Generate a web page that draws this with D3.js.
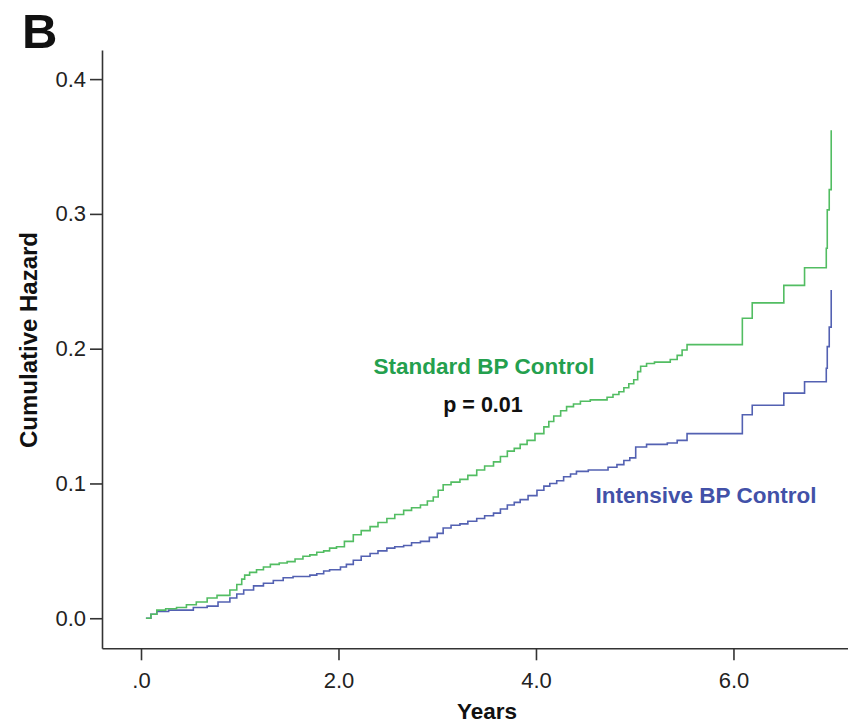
<!DOCTYPE html>
<html>
<head>
<meta charset="utf-8">
<script src="https://cdn.jsdelivr.net/npm/d3@7"></script>
<style>
  body { margin: 0; background: #fff; }
  text { font-family: "Liberation Sans", Arial, sans-serif; }
</style>
</head>
<body>
<script>
// cumulative hazard, [years, hazard]
var standardBP = [
  [0.05,0],[0.10,0.003],[0.16,0.006],[0.25,0.007],[0.36,0.008],[0.46,0.010],[0.56,0.012],
  [0.67,0.015],[0.77,0.017],[0.90,0.021],[0.97,0.025],[1.02,0.029],[1.05,0.032],[1.10,0.034],
  [1.17,0.036],[1.24,0.038],[1.31,0.040],[1.40,0.041],[1.48,0.042],[1.56,0.044],[1.64,0.046],
  [1.71,0.047],[1.78,0.049],[1.85,0.050],[1.91,0.052],[1.98,0.053],[2.06,0.057],[2.15,0.062],
  [2.23,0.065],[2.32,0.068],[2.40,0.071],[2.49,0.074],[2.57,0.077],[2.66,0.080],[2.74,0.082],
  [2.83,0.084],[2.90,0.087],[2.96,0.090],[3.01,0.095],[3.06,0.099],[3.14,0.101],[3.23,0.103],
  [3.31,0.106],[3.40,0.110],[3.48,0.113],[3.57,0.116],[3.64,0.120],[3.71,0.124],[3.78,0.126],
  [3.84,0.129],[3.91,0.132],[3.99,0.137],[4.08,0.142],[4.13,0.146],[4.18,0.150],[4.25,0.154],
  [4.31,0.157],[4.38,0.159],[4.45,0.161],[4.55,0.162],[4.72,0.164],[4.78,0.166],[4.84,0.168],
  [4.89,0.171],[4.94,0.174],[4.99,0.177],[5.03,0.183],[5.06,0.187],[5.12,0.189],[5.20,0.190],
  [5.36,0.192],[5.43,0.195],[5.48,0.199],[5.53,0.203],[6.09,0.2226],[6.19,0.234],[6.51,0.247],
  [6.72,0.260],[6.94,0.2745],[6.95,0.303],[6.97,0.318],[6.99,0.362]
];
var intensiveBP = [
  [0.05,0],[0.10,0.003],[0.16,0.005],[0.28,0.006],[0.53,0.008],[0.67,0.009],[0.78,0.012],
  [0.90,0.015],[0.97,0.018],[1.04,0.021],[1.14,0.024],[1.24,0.026],[1.34,0.028],[1.44,0.030],
  [1.54,0.031],[1.71,0.032],[1.78,0.033],[1.85,0.035],[1.91,0.036],[2.02,0.038],[2.08,0.040],
  [2.15,0.043],[2.23,0.046],[2.32,0.048],[2.40,0.050],[2.49,0.052],[2.57,0.053],[2.66,0.054],
  [2.74,0.056],[2.83,0.057],[2.92,0.060],[3.00,0.063],[3.06,0.067],[3.14,0.069],[3.23,0.070],
  [3.31,0.072],[3.40,0.074],[3.48,0.076],[3.57,0.078],[3.64,0.081],[3.71,0.084],[3.78,0.086],
  [3.84,0.088],[3.92,0.091],[4.01,0.095],[4.08,0.098],[4.14,0.100],[4.21,0.102],[4.28,0.105],
  [4.35,0.107],[4.41,0.109],[4.53,0.110],[4.73,0.112],[4.82,0.114],[4.89,0.117],[4.95,0.119],
  [5.01,0.127],[5.12,0.129],[5.33,0.130],[5.43,0.132],[5.53,0.137],[6.09,0.151],[6.19,0.158],
  [6.51,0.167],[6.72,0.1755],[6.94,0.1855],[6.95,0.2015],[6.97,0.216],[6.99,0.2435]
];
var xTicks = [0, 2, 4, 6];
var yTicks = [0, 0.1, 0.2, 0.3, 0.4];

var w = 848, h = 727;
var svg = d3.select('body').append('svg').attr('width', w).attr('height', h);

var x = d3.scaleLinear().domain([-0.395, 7.16]).range([102, 848]);
var y = d3.scaleLinear().domain([-0.0223, 0.4216]).range([648.3, 50]);

// ejes
var xAxis = svg.append('g')
  .attr('transform', 'translate(0,648.3)')
  .call(d3.axisBottom(x).tickValues(xTicks).tickSize(12).tickSizeOuter(0).tickPadding(8)
    .tickFormat(function(d){ return d === 0 ? '.0' : d3.format('.1f')(d); }));
var yAxis = svg.append('g')
  .attr('transform', 'translate(102,0)')
  .call(d3.axisLeft(y).tickValues(yTicks).tickSize(12).tickSizeOuter(0).tickPadding(4)
    .tickFormat(d3.format('.1f')));

[xAxis, yAxis].forEach(function(g){
  g.selectAll('path, line').attr('stroke', '#333').attr('stroke-width', 1.6);
  g.selectAll('text').attr('font-size', 22).attr('fill', '#222')
    .style('font-family', '"Liberation Sans", Arial, sans-serif');
});
xAxis.selectAll('text').attr('dy', '0.9em');

// curvas escalonadas
var line = d3.line()
  .x(function(d){ return x(d[0]); })
  .y(function(d){ return y(d[1]); })
  .curve(d3.curveStepAfter);

svg.append('path').datum(intensiveBP)
  .attr('d', line).attr('fill', 'none')
  .attr('stroke', '#5361b2').attr('stroke-width', 1.6);
svg.append('path').datum(standardBP)
  .attr('d', line).attr('fill', 'none')
  .attr('stroke', '#52bd62').attr('stroke-width', 1.6);

// textos
svg.append('text').text('B')
  .attr('x', 22).attr('y', 48)
  .attr('font-size', 49).attr('font-weight', 'bold').attr('fill', '#111');

svg.append('text').text('Standard BP Control')
  .attr('x', 484).attr('y', 374).attr('text-anchor', 'middle')
  .attr('font-size', 22.5).attr('font-weight', 'bold').attr('fill', '#24a04e');
svg.append('text').text('p = 0.01')
  .attr('x', 483).attr('y', 412).attr('text-anchor', 'middle')
  .attr('font-size', 21.5).attr('font-weight', 'bold').attr('fill', '#111');
svg.append('text').text('Intensive BP Control')
  .attr('x', 706).attr('y', 503).attr('text-anchor', 'middle')
  .attr('font-size', 22.5).attr('font-weight', 'bold').attr('fill', '#4251a8');

svg.append('text').text('Years')
  .attr('x', 487).attr('y', 719).attr('text-anchor', 'middle')
  .attr('font-size', 22.5).attr('font-weight', 'bold').attr('fill', '#111');
svg.append('text').text('Cumulative Hazard')
  .attr('transform', 'translate(37,340) rotate(-90)').attr('text-anchor', 'middle')
  .attr('font-size', 24).attr('font-weight', 'bold').attr('fill', '#111');
</script>
</body>
</html>
